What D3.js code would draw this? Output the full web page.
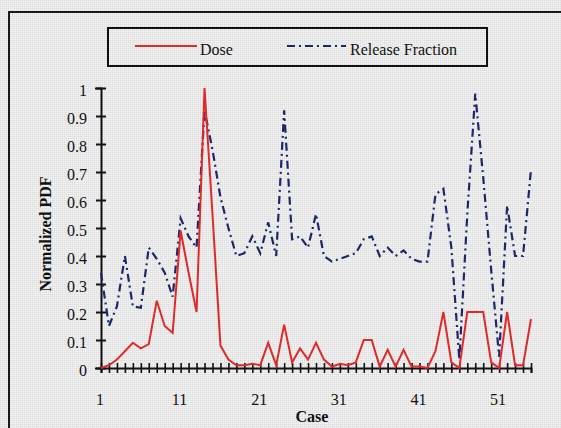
<!DOCTYPE html>
<html>
<head>
<meta charset="utf-8">
<script src="https://cdn.jsdelivr.net/npm/d3@7"></script>
<style>
  body { margin: 0; background: #e7e7e7; }
  svg { display: block; }
  text { font-family: "Liberation Serif", "Times New Roman", serif; fill: #111; }
</style>
</head>
<body>
<svg id="chart"></svg>
<script>
"use strict";
// case numbers 1..55
var cases = d3.range(1, 56);
var caseLabels = [1, 11, 21, 31, 41, 51];
var yTicks = [0, 0.1, 0.2, 0.3, 0.4, 0.5, 0.6, 0.7, 0.8, 0.9, 1];

var dose = [0, 0.01, 0.03, 0.06, 0.09, 0.07, 0.085, 0.24, 0.15, 0.125,
            0.49, 0.34, 0.2, 1.0, 0.55, 0.08, 0.03, 0.01, 0.01, 0.015,
            0.01, 0.09, 0.01, 0.155, 0.02, 0.07, 0.03, 0.09, 0.03, 0.005,
            0.015, 0.01, 0.02, 0.1, 0.1, 0.005, 0.065, 0.005, 0.065, 0.005,
            0.005, 0, 0.06, 0.2, 0.02, 0, 0.2, 0.2, 0.2, 0.02,
            0, 0.2, 0.01, 0.01, 0.175];

var releaseFraction = [0.34, 0.15, 0.22, 0.40, 0.22, 0.215, 0.43, 0.39, 0.34, 0.255,
            0.535, 0.47, 0.43, 0.92, 0.78, 0.61, 0.50, 0.40, 0.41, 0.47,
            0.41, 0.52, 0.40, 0.92, 0.46, 0.47, 0.43, 0.55, 0.40, 0.38,
            0.39, 0.40, 0.41, 0.46, 0.47, 0.40, 0.43, 0.40, 0.42, 0.39,
            0.38, 0.38, 0.62, 0.64, 0.43, 0.03, 0.55, 0.98, 0.68, 0.35,
            0.04, 0.58, 0.40, 0.40, 0.71];

var svgWidth = 561, svgHeight = 428;
var svg = d3.select('#chart').attr("width", svgWidth).attr("height", svgHeight);

// dithered grey background like the scanned original
var defs = svg.append("defs");
var pat = defs.append("pattern").attr("id", "dither")
  .attr("width", 2).attr("height", 2).attr("patternUnits", "userSpaceOnUse");
pat.append("rect").attr("width", 2).attr("height", 2).attr("fill", "#eaeaea");
pat.append("rect").attr("width", 1).attr("height", 1).attr("fill", "#dedede");
pat.append("rect").attr("x", 1).attr("y", 1).attr("width", 1).attr("height", 1).attr("fill", "#f3f3f3");
svg.append("rect").attr("width", svgWidth).attr("height", svgHeight).attr("fill", "url(#dither)");

// outer frame (cut off at the right and bottom)
svg.append("path")
  .attr("d", "M9,428 L9,12 L561,12")
  .attr("fill", "none").attr("stroke", "#1a1a1a").attr("stroke-width", 2);

var x = d3.scaleLinear().domain([1, 55]).range([101, 531]);
var y = d3.scaleLinear().domain([0, 1]).range([368, 88]);

// y axis
var yAxis = svg.append("g").attr("transform", "translate(" + x(1) + ",0)")
  .call(d3.axisLeft(y).tickValues(yTicks).tickSize(6).tickPadding(8)
    .tickFormat(function(d) { return d === 0 ? "0" : d === 1 ? "1" : d3.format(".1f")(d); }));
yAxis.attr("font-family", null);
yAxis.select(".domain").attr("stroke", "#111").attr("stroke-width", 2);
yAxis.selectAll(".tick line").attr("x1", -5).attr("x2", 5).attr("stroke", "#111").attr("stroke-width", 2);
yAxis.selectAll(".tick text").attr("font-size", 16).attr("dy", "0.45em");

// x axis: a tick at every case, labels every tenth
var xAxis = svg.append("g").attr("transform", "translate(0," + y(0) + ")")
  .call(d3.axisBottom(x).tickValues(cases).tickSize(5).tickPadding(21)
    .tickFormat(function(d) { return caseLabels.indexOf(d) >= 0 ? d : ""; }));
xAxis.attr("font-family", null);
xAxis.select(".domain").attr("stroke", "#111").attr("stroke-width", 2);
xAxis.selectAll(".tick line").attr("y1", -5).attr("y2", 5).attr("stroke", "#111").attr("stroke-width", 1.6);
xAxis.selectAll(".tick text").attr("font-size", 16).attr("dx", "-0.1em");

// axis titles
svg.append("text").attr("x", 312).attr("y", 422).attr("text-anchor", "middle")
  .attr("font-size", 16).attr("font-weight", "bold").text("Case");
svg.append("text").attr("transform", "translate(51,234) rotate(-90)").attr("text-anchor", "middle")
  .attr("font-size", 16).attr("font-weight", "bold").text("Normalized PDF");

// series lines
var line = d3.line()
  .x(function(d, i) { return x(cases[i]); })
  .y(function(d) { return y(d); });

svg.append("path").datum(releaseFraction)
  .attr("d", line).attr("fill", "none")
  .attr("stroke", "#1c266c").attr("stroke-width", 2.2)
  .attr("stroke-dasharray", "8,4,2,4");

svg.append("path").datum(dose)
  .attr("d", line).attr("fill", "none")
  .attr("stroke", "#e02a2a").attr("stroke-width", 2);

// legend
var legend = svg.append("g");
legend.append("rect").attr("x", 108).attr("y", 28).attr("width", 379).attr("height", 38)
  .attr("fill", "none").attr("stroke", "#111").attr("stroke-width", 2);
legend.append("line").attr("x1", 135).attr("x2", 197).attr("y1", 46).attr("y2", 46)
  .attr("stroke", "#e02a2a").attr("stroke-width", 2);
legend.append("text").attr("x", 200).attr("y", 55).attr("font-size", 16).text("Dose");
legend.append("line").attr("x1", 287).attr("x2", 346).attr("y1", 46).attr("y2", 46)
  .attr("stroke", "#1c266c").attr("stroke-width", 2.2).attr("stroke-dasharray", "8,4,2,4");
legend.append("text").attr("x", 350).attr("y", 55).attr("font-size", 16).text("Release Fraction");
</script>
</body>
</html>
